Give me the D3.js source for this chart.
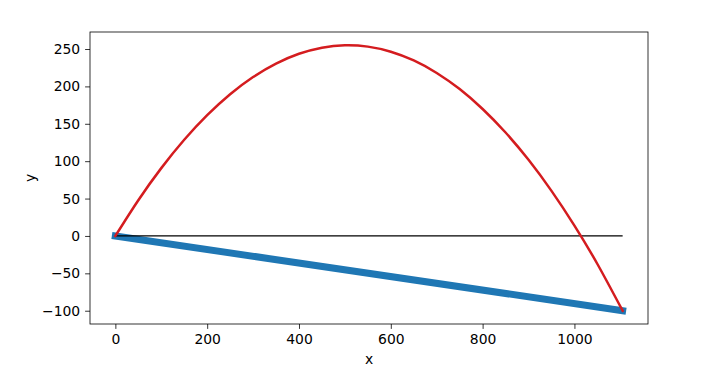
<!DOCTYPE html>
<meta charset="utf-8">
<style>
body { margin: 0; background: #fff; }
text { font-family: "DejaVu Sans", sans-serif; }
</style>
<svg width="720" height="380"></svg>
<script src="https://d3js.org/d3.v7.min.js"></script>
<script>

// trajectory
var pathX = [0, 50, 100, 150, 200, 250, 300, 350, 400, 450, 500, 550, 600, 650, 700, 750, 800, 850, 900, 950, 1000, 1050, 1105];
var pathY = [0, 47.8, 90.7, 128.6, 161.5, 189.5, 212.5, 230.5, 243.6, 251.8, 255, 253.2, 246.4, 234.7, 218, 196.4, 169.8, 138.3, 101.8, 60.3, 13.9, -37.5, -100];

// straight line from start to landing point
var chordX = [0, 1105];
var chordY = [0, -100];

// ground line
var groundX = [0, 1105];
var groundY = [0, 0];

var xTicks = [0, 200, 400, 600, 800, 1000];
var yTicks = [-100, -50, 0, 50, 100, 150, 200, 250];

var svg = d3.select("svg"),
    axLeft = 90, axRight = 648, axTop = 32, axBottom = 324;

var x = d3.scaleLinear().domain([-55.25, 1160.25]).range([axLeft, axRight]);
var y = d3.scaleLinear().domain([-117.75, 272.75]).range([axBottom, axTop]);

var pts = function(xs, ys) { return xs.map(function(d, i) { return [d, ys[i]]; }); };

var line = d3.line().x(function(d) { return x(d[0]); }).y(function(d) { return y(d[1]); });
var curve = d3.line().curve(d3.curveNatural).x(function(d) { return x(d[0]); }).y(function(d) { return y(d[1]); });

var plot = svg.append("g");

plot.append("path")
  .attr("d", line(pts(chordX, chordY)))
  .attr("fill", "none")
  .attr("stroke", "#1f77b4")
  .attr("stroke-width", 7)
  .attr("stroke-linecap", "square");

plot.append("path")
  .attr("d", line(pts(groundX, groundY)))
  .attr("fill", "none")
  .attr("stroke", "#000")
  .attr("stroke-width", 1.2);

plot.append("path")
  .attr("d", curve(pts(pathX, pathY)))
  .attr("fill", "none")
  .attr("stroke", "#d41c1f")
  .attr("stroke-width", 2.5)
  .attr("stroke-linecap", "square");

svg.append("g")
  .attr("transform", "translate(0," + axBottom + ")")
  .call(d3.axisBottom(x).tickValues(xTicks).tickSize(4.9).tickPadding(4.9).tickFormat(d3.format("d")))
  .call(function(g) { g.select(".domain").remove(); });

svg.append("g")
  .attr("transform", "translate(" + axLeft + ",0)")
  .call(d3.axisLeft(y).tickValues(yTicks).tickSize(4.9).tickPadding(4.9).tickFormat(function(d) { return d < 0 ? "\u2212" + Math.abs(d) : d; }))
  .call(function(g) { g.select(".domain").remove(); });

svg.selectAll(".tick text")
  .attr("font-size", "13.9px")
  .attr("font-family", "DejaVu Sans")
  .attr("fill", "#000");
svg.selectAll(".tick line").attr("stroke", "#000").attr("stroke-width", 0.8);

svg.append("rect")
  .attr("x", axLeft).attr("y", axTop)
  .attr("width", axRight - axLeft).attr("height", axBottom - axTop)
  .attr("fill", "none").attr("stroke", "#000").attr("stroke-width", 0.8);

svg.append("text")
  .attr("x", (axLeft + axRight) / 2).attr("y", 364)
  .attr("text-anchor", "middle")
  .attr("font-size", "13.9px")
  .text("x");

svg.append("text")
  .attr("transform", "translate(35," + (axTop + axBottom) / 2 + ") rotate(-90)")
  .attr("text-anchor", "middle")
  .attr("font-size", "13.9px")
  .text("y");

</script>
